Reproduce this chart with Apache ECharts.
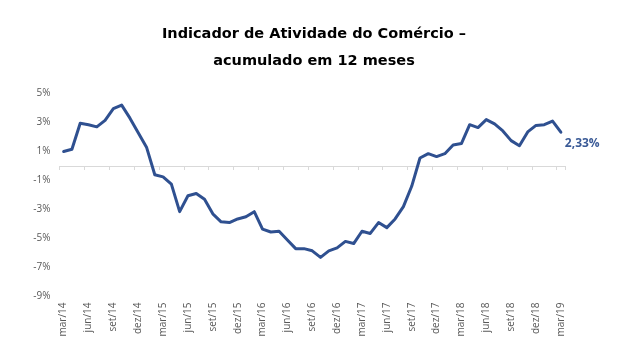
<!DOCTYPE html>
<html>
<head>
<meta charset="utf-8">
<script src="https://cdn.jsdelivr.net/npm/echarts@6/dist/echarts.min.js"></script>
<style>html,body{margin:0;padding:0;background:#fff;}#c{width:628px;height:362px;}</style>
</head>
<body>
<div id="c"></div>
<script>
const categories = [
  'mar/14','abr/14','mai/14','jun/14','jul/14','ago/14','set/14','out/14','nov/14','dez/14',
  'jan/15','fev/15','mar/15','abr/15','mai/15','jun/15','jul/15','ago/15','set/15','out/15','nov/15','dez/15',
  'jan/16','fev/16','mar/16','abr/16','mai/16','jun/16','jul/16','ago/16','set/16','out/16','nov/16','dez/16',
  'jan/17','fev/17','mar/17','abr/17','mai/17','jun/17','jul/17','ago/17','set/17','out/17','nov/17','dez/17',
  'jan/18','fev/18','mar/18','abr/18','mai/18','jun/18','jul/18','ago/18','set/18','out/18','nov/18','dez/18',
  'jan/19','fev/19','mar/19'
];
const values = [
  1.0, 1.15, 2.95, 2.85, 2.7, 3.15, 3.95, 4.2, 3.3, 2.3,
  1.3, -0.6, -0.75, -1.25, -3.15, -2.05, -1.9, -2.3, -3.3, -3.85, -3.9, -3.65,
  -3.5, -3.15, -4.35, -4.55, -4.5, -5.1, -5.7, -5.7, -5.85, -6.3, -5.85, -5.65,
  -5.2, -5.35, -4.5, -4.65, -3.9, -4.25, -3.65, -2.8, -1.4, 0.55, 0.85, 0.65,
  0.85, 1.45, 1.55, 2.85, 2.65, 3.2, 2.9, 2.42, 1.75, 1.4, 2.35, 2.8,
  2.85, 3.1, 2.33
];
const yTicks = { min: -9, max: 5, interval: 2 };
const titleText = 'Indicador de Atividade do Comércio –\nacumulado em 12 meses';

const chart = echarts.init(document.getElementById('c'), null, { renderer: 'canvas' });
chart.setOption({
  animation: false,
  backgroundColor: '#ffffff',
  title: {
    text: titleText,
    left: 'center',
    top: 16,
    textStyle: {
      fontFamily: 'DejaVu Sans',
      fontWeight: 'bold',
      fontSize: 14.5,
      lineHeight: 27,
      color: '#000000'
    }
  },
  grid: { left: 59.5, right: 63, top: 93.5, bottom: 65.5, containLabel: false },
  xAxis: [
    {
      type: 'category',
      data: categories,
      boundaryGap: true,
      position: 'bottom',
      axisLine: { show: true, onZero: true, lineStyle: { color: '#d9d9d9', width: 1 } },
      axisTick: { show: true, interval: 2, length: 4, inside: false, lineStyle: { color: '#d9d9d9' } },
      axisLabel: { show: false },
      splitLine: { show: false }
    },
    {
      type: 'category',
      data: categories,
      boundaryGap: true,
      position: 'bottom',
      axisLine: { show: false, onZero: false },
      axisTick: { show: false },
      axisLabel: {
        show: true,
        interval: 2,
        rotate: 90,
        margin: 6,
        color: '#595959',
        fontSize: 10,
        fontFamily: 'Open Sans'
      },
      splitLine: { show: false }
    }
  ],
  yAxis: {
    type: 'value',
    min: yTicks.min,
    max: yTicks.max,
    interval: yTicks.interval,
    axisLine: { show: false },
    axisTick: { show: false },
    splitLine: { show: false },
    axisLabel: {
      formatter: v => v + '%',
      color: '#595959',
      fontSize: 10,
      fontFamily: 'Open Sans',
      margin: 9
    }
  },
  series: [{
    type: 'line',
    xAxisIndex: 0,
    data: values,
    symbol: 'none',
    smooth: false,
    lineStyle: { color: '#2f5090', width: 3, join: 'round', cap: 'round' },
    endLabel: {
      show: true,
      formatter: p => String(p.value).replace('.', ',') + '%',
      color: '#3a5a96',
      fontWeight: 'bold',
      fontSize: 12,
      fontFamily: 'Open Sans',
      distance: 4,
      offset: [0, 11]
    }
  }]
});
</script>
</body>
</html>
